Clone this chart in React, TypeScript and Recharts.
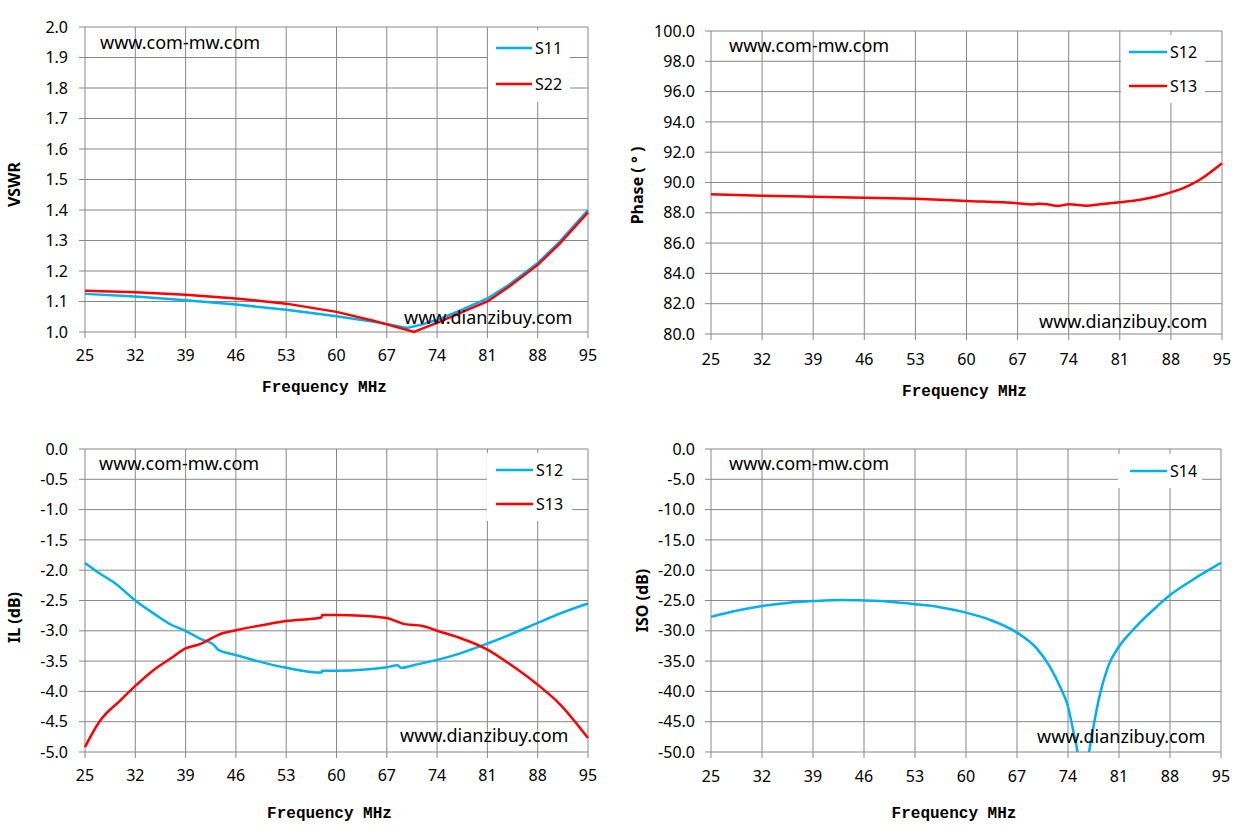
import React from 'react';
import { LineChart, Line, XAxis, YAxis, CartesianGrid, Legend } from 'recharts';

const BLUE = '#00b0f0';
const RED = '#ff0000';
const GRID = '#878787';
const SANS = '"Noto Sans", "Open Sans", sans-serif';

const freqTicks = [25, 32, 39, 46, 53, 60, 67, 74, 81, 88, 95];

// VSWR panel
const vswrTicks = [1.0, 1.1, 1.2, 1.3, 1.4, 1.5, 1.6, 1.7, 1.8, 1.9, 2.0];
const s11Freq = [25, 32, 39, 46, 53, 60, 65, 67, 69.8, 72, 74, 77, 81, 84, 88, 91, 95];
const s11Vswr = [1.125, 1.116, 1.104, 1.09, 1.073, 1.052, 1.034, 1.026, 1.013, 1.025, 1.04, 1.068, 1.11, 1.155, 1.226, 1.295, 1.4];
const s22Freq = [25, 32, 39, 46, 53, 60, 65, 67, 70.8, 72, 74, 77, 81, 84, 88, 91, 95];
const s22Vswr = [1.135, 1.13, 1.122, 1.11, 1.093, 1.066, 1.038, 1.025, 1.0, 1.012, 1.03, 1.06, 1.1, 1.148, 1.22, 1.288, 1.392];

// Phase panel
const phaseTicks = [80, 82, 84, 86, 88, 90, 92, 94, 96, 98, 100];
const s13PhFreq = [25, 32, 39, 46, 53, 60, 67, 69, 70, 71, 72.5, 74, 76.5, 78, 81, 84, 86, 88, 90, 92, 95];
const s13Phase = [89.22, 89.12, 89.06, 89.0, 88.92, 88.78, 88.63, 88.55, 88.6, 88.56, 88.45, 88.56, 88.47, 88.55, 88.69, 88.88, 89.08, 89.35, 89.7, 90.2, 91.27];

// Insertion loss panel
const ilTicks = [-5, -4.5, -4, -3.5, -3, -2.5, -2, -1.5, -1, -0.5, 0];
const s12IlFreq = [25, 27, 29, 32, 35, 37, 39, 41, 43, 43.5, 46, 49, 53, 57.9, 58, 60, 64, 67, 68.5, 69, 71, 74, 77, 81, 84, 88, 91, 95];
const s12Il = [-1.88, -2.05, -2.2, -2.5, -2.75, -2.9, -3.0, -3.13, -3.24, -3.31, -3.4, -3.5, -3.61, -3.69, -3.66, -3.66, -3.64, -3.6, -3.57, -3.61, -3.56, -3.48, -3.38, -3.21, -3.07, -2.87, -2.72, -2.55];
const s13IlFreq = [25, 25.3, 27, 30, 32, 34.3, 37, 39, 41, 43, 43.5, 46, 50, 53, 57.9, 58, 60, 63.5, 67, 68.5, 69.5, 72, 74, 77, 81, 84, 88, 91, 95];
const s13Il = [-4.92, -4.85, -4.5, -4.14, -3.91, -3.67, -3.45, -3.29, -3.22, -3.1, -3.07, -2.99, -2.9, -2.84, -2.78, -2.74, -2.74, -2.75, -2.79, -2.85, -2.89, -2.92, -3.0, -3.11, -3.31, -3.54, -3.89, -4.2, -4.77];

// Isolation panel
const isoTicks = [-50, -45, -40, -35, -30, -25, -20, -15, -10, -5, 0];
const s14Freq = [25, 28.5, 32, 35.5, 39, 43, 46, 49.5, 53, 56.4, 60, 63.3, 67, 69.7, 71.5, 72.9, 74, 74.7, 75.3, 76.1, 76.9, 77.5, 78.3, 79.5, 81, 82.5, 83.9, 86.2, 88, 90.7, 95];
const s14Iso = [-27.7, -26.7, -25.9, -25.4, -25.1, -24.9, -25.0, -25.2, -25.6, -26.1, -27.0, -28.2, -30.3, -32.9, -35.9, -39.2, -42.5, -46.4, -50, -60, -50, -45.8, -40.9, -35.9, -32.6, -30.4, -28.6, -26.0, -24.1, -21.9, -18.8];

const zip = (f: number[], v: number[]) => f.map((x, i) => ({ f: x, v: v[i] }));

type Series = { name: string; color: string; data: { f: number; v: number }[]; curve: 'linear' | 'monotone' };
type LegendItem = { name: string; color: string };
type Mark = { text: string; left: number; cy: number };

type PanelProps = {
  left: number; top: number; width: number; height: number;
  margin: { top: number; right: number; bottom: number; left: number };
  yWidth: number; xHeight: number;
  yDomain: [number, number]; yTicks: number[];
  yTitle: string; yTitleDx: number; yTitleDy: number;
  xTickMargin: number; yTickMargin: number;
  xTitleOffset: number; xTitleDx: number;
  series: Series[];
  legend: LegendItem[];
  legendBox: { left: number; top: number; width: number; height: number; rowH: number; lineL: number; lineW: number };
  marks: Mark[];
  clip?: boolean;
};

const Panel = (p: PanelProps) => {
  const lb = p.legendBox;
  const renderLegend = () => (
    <div style={{ background: '#fff', width: lb.width, height: lb.height }}>
      {p.legend.map((it) => (
        <div key={it.name} style={{ display: 'flex', alignItems: 'center', height: lb.rowH }}>
          <svg width={lb.lineW} height={4} style={{ marginLeft: lb.lineL, display: 'block' }}>
            <line x1={0} y1={2} x2={lb.lineW} y2={2} stroke={it.color} strokeWidth={2.5} />
          </svg>
          <span style={{ marginLeft: 3, fontSize: 16, fontFamily: SANS, color: '#000' }}>{it.name}</span>
        </div>
      ))}
    </div>
  );
  return (
    <div style={{ position: 'absolute', left: p.left, top: p.top, width: p.width, height: p.height }}>
      <LineChart width={p.width} height={p.height} margin={p.margin}>
        <CartesianGrid stroke={GRID} strokeWidth={1} />
        <XAxis
          type="number"
          dataKey="f"
          domain={[25, 95]}
          ticks={freqTicks}
          interval={0}
          height={p.xHeight}
          axisLine={false}
          tickLine={{ stroke: GRID }}
          tickSize={6}
          tickMargin={p.xTickMargin}
          tick={{ fill: '#000', fontSize: 16, fontFamily: SANS }}
          label={{
            value: 'Frequency MHz',
            position: 'insideBottom',
            offset: p.xTitleOffset,
            dx: p.xTitleDx,
            fill: '#000',
            fontSize: 16,
            fontWeight: 700,
            fontFamily: '"Liberation Mono", monospace',
          }}
        />
        <YAxis
          type="number"
          domain={p.yDomain}
          ticks={p.yTicks}
          interval={0}
          width={p.yWidth}
          allowDataOverflow={p.clip}
          axisLine={false}
          tickLine={{ stroke: GRID }}
          tickSize={6}
          tickMargin={p.yTickMargin}
          tickFormatter={(v: number) => v.toFixed(1)}
          tick={{ fill: '#000', fontSize: 16, fontFamily: SANS }}
          label={{
            value: p.yTitle,
            angle: -90,
            position: 'center',
            dx: p.yTitleDx,
            dy: p.yTitleDy,
            fill: '#000',
            fontSize: 16,
            fontWeight: 700,
            fontFamily: SANS,
          }}
        />
        <Legend
          layout="vertical"
          align="center"
          verticalAlign="middle"
          content={renderLegend}
          wrapperStyle={{ position: 'absolute', left: lb.left, top: lb.top, width: lb.width, height: lb.height, margin: 0 }}
        />
        {p.series.map((s) => (
          <Line
            key={s.name}
            data={s.data}
            dataKey="v"
            name={s.name}
            type={s.curve}
            stroke={s.color}
            strokeWidth={2.5}
            dot={false}
            activeDot={false}
            isAnimationActive={false}
          />
        ))}
      </LineChart>
      {p.marks.map((m) => (
        <div
          key={m.text}
          style={{
            position: 'absolute',
            left: m.left,
            top: m.cy - 12,
            height: 24,
            lineHeight: '24px',
            fontSize: 18,
            fontFamily: SANS,
            color: '#000',
            whiteSpace: 'nowrap',
          }}
        >
          {m.text}
        </div>
      ))}
    </div>
  );
};

export default function App() {
  return (
    <div style={{ position: 'absolute', left: 0, top: 0, width: 1247, height: 835, background: '#fff', overflow: 'hidden' }}>
      <Panel
        left={0} top={0} width={620} height={410}
        margin={{ top: 27, right: 32, bottom: 0, left: 0 }}
        yWidth={85} xHeight={78}
        yDomain={[1, 2]} yTicks={vswrTicks}
        yTitle="VSWR" yTitleDx={-28} yTitleDy={5}
        xTickMargin={12} yTickMargin={11}
        xTitleOffset={18} xTitleDx={-12}
        series={[
          { name: 'S11', color: BLUE, data: zip(s11Freq, s11Vswr), curve: 'linear' },
          { name: 'S22', color: RED, data: zip(s22Freq, s22Vswr), curve: 'linear' },
        ]}
        legend={[{ name: 'S11', color: BLUE }, { name: 'S22', color: RED }]}
        legendBox={{ left: 488, top: 30, width: 82, height: 72, rowH: 36, lineL: 8, lineW: 36 }}
        marks={[
          { text: 'www.com-mw.com', left: 100, cy: 42 },
          { text: 'www.dianzibuy.com', left: 404, cy: 317 },
        ]}
      />
      <Panel
        left={620} top={0} width={627} height={414}
        margin={{ top: 31, right: 25, bottom: 0, left: 0 }}
        yWidth={91} xHeight={80}
        yDomain={[80, 100]} yTicks={phaseTicks}
        yTitle="Phase ( ° )" yTitleDx={-28} yTitleDy={3}
        xTickMargin={14} yTickMargin={10}
        xTitleOffset={18} xTitleDx={-2}
        series={[{ name: 'S13', color: RED, data: zip(s13PhFreq, s13Phase), curve: 'monotone' }]}
        legend={[{ name: 'S12', color: BLUE }, { name: 'S13', color: RED }]}
        legendBox={{ left: 501, top: 35, width: 84, height: 68, rowH: 34, lineL: 8, lineW: 38 }}
        marks={[
          { text: 'www.com-mw.com', left: 109, cy: 45 },
          { text: 'www.dianzibuy.com', left: 419, cy: 321 },
        ]}
      />
      <Panel
        left={0} top={420} width={620} height={415}
        margin={{ top: 29, right: 32, bottom: 0, left: 0 }}
        yWidth={85} xHeight={83}
        yDomain={[-5, 0]} yTicks={ilTicks}
        yTitle="IL (dB)" yTitleDx={-28} yTitleDy={17}
        xTickMargin={12} yTickMargin={11}
        xTitleOffset={17} xTitleDx={-7}
        series={[
          { name: 'S12', color: BLUE, data: zip(s12IlFreq, s12Il), curve: 'monotone' },
          { name: 'S13', color: RED, data: zip(s13IlFreq, s13Il), curve: 'monotone' },
        ]}
        legend={[{ name: 'S12', color: BLUE }, { name: 'S13', color: RED }]}
        legendBox={{ left: 487, top: 33, width: 85, height: 68, rowH: 34, lineL: 9, lineW: 37 }}
        marks={[
          { text: 'www.com-mw.com', left: 99, cy: 43 },
          { text: 'www.dianzibuy.com', left: 400, cy: 315 },
        ]}
      />
      <Panel
        left={620} top={420} width={627} height={415}
        margin={{ top: 29, right: 26, bottom: 0, left: 0 }}
        yWidth={91} xHeight={83}
        yDomain={[-50, 0]} yTicks={isoTicks}
        yTitle="ISO (dB)" yTitleDx={-23} yTitleDy={0}
        xTickMargin={13} yTickMargin={10}
        xTitleOffset={17} xTitleDx={-12}
        clip
        series={[{ name: 'S14', color: BLUE, data: zip(s14Freq, s14Iso), curve: 'monotone' }]}
        legend={[{ name: 'S14', color: BLUE }]}
        legendBox={{ left: 498, top: 34, width: 84, height: 34, rowH: 34, lineL: 12, lineW: 37 }}
        marks={[
          { text: 'www.com-mw.com', left: 109, cy: 43 },
          { text: 'www.dianzibuy.com', left: 417, cy: 316 },
        ]}
      />
    </div>
  );
}
